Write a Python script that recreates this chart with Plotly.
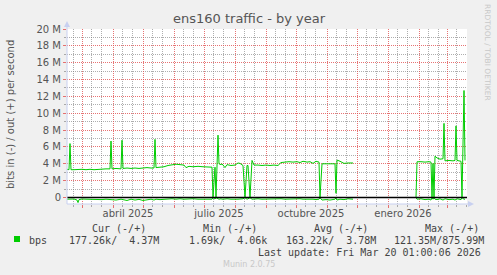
import plotly.graph_objects as go

# ---------------- data (Mbps) ----------------
dates = [
    "2025-02-14", "2025-02-16", "2025-02-17", "2025-02-18", "2025-02-21", "2025-02-24", "2025-02-25", "2025-02-26",
    "2025-03-01", "2025-03-05", "2025-03-09", "2025-03-13", "2025-03-17", "2025-03-21", "2025-03-25", "2025-03-29",
    "2025-03-30", "2025-03-31", "2025-04-04", "2025-04-09", "2025-04-10", "2025-04-11", "2025-04-15", "2025-04-19",
    "2025-04-23", "2025-04-27", "2025-05-01", "2025-05-05", "2025-05-09", "2025-05-12", "2025-05-13", "2025-05-14",
    "2025-05-18", "2025-05-22", "2025-05-26", "2025-05-30", "2025-06-03", "2025-06-07", "2025-06-11", "2025-06-13",
    "2025-06-16", "2025-06-20", "2025-06-25", "2025-06-30", "2025-07-05", "2025-07-09", "2025-07-10", "2025-07-12",
    "2025-07-13", "2025-07-15", "2025-07-16", "2025-07-18", "2025-07-19", "2025-07-22", "2025-07-24", "2025-07-28",
    "2025-08-01", "2025-08-04", "2025-08-06", "2025-08-09", "2025-08-11", "2025-08-13", "2025-08-14", "2025-08-16",
    "2025-08-18", "2025-08-20", "2025-08-24", "2025-08-28", "2025-09-01", "2025-09-05", "2025-09-09", "2025-09-13",
    "2025-09-16", "2025-09-20", "2025-09-24", "2025-09-28", "2025-10-02", "2025-10-05", "2025-10-08", "2025-10-12",
    "2025-10-15", "2025-10-18", "2025-10-21", "2025-10-24", "2025-10-25", "2025-10-27", "2025-10-31", "2025-11-04",
    "2025-11-09", "2025-11-10", "2025-11-11", "2025-11-14", "2025-11-18", "2025-11-22", "2025-11-27",
    "2025-12-20",
    "2026-01-29", "2026-01-30", "2026-02-03", "2026-02-07", "2026-02-11", "2026-02-13", "2026-02-14", "2026-02-15",
    "2026-02-16", "2026-02-17", "2026-02-19", "2026-02-22", "2026-02-25", "2026-02-26", "2026-02-27", "2026-03-03",
    "2026-03-07", "2026-03-09", "2026-03-10", "2026-03-11", "2026-03-15", "2026-03-16", "2026-03-18", "2026-03-19",
]
out_mbps = [
    3.35, 3.3, 6.4, 3.3, 3.3, 3.35, 3.3, 3.3,
    3.35, 3.3, 3.35, 3.3, 3.35, 3.4, 3.4, 3.4,
    6.7, 3.4, 3.45, 3.4, 6.8, 3.45, 3.5, 3.45,
    3.5, 3.45, 3.5, 3.55, 3.5, 3.5, 6.9, 3.55,
    3.6, 3.65, 3.8, 3.9, 3.95, 3.9, 3.85, 3.55,
    3.7, 3.65, 3.7, 3.65, 3.65, 3.6, 0.05, 3.6,
    0.05, 7.4, 4.0, 3.9, 4.0, 3.55, 3.9, 3.8,
    3.85, 4.1, 4.05, 3.8, 0.05, 3.8, 3.8, 0.05,
    4.4, 3.85, 3.85, 3.8, 3.85, 3.8, 3.85, 3.8,
    4.15, 4.2, 4.25, 4.2, 4.25, 4.15, 4.3, 4.2,
    4.25, 4.05, 4.3, 4.2, 0.05, 4.0, 4.0, 4.0,
    4.0, 0.5, 4.45, 4.3, 4.05, 4.1, 4.1,
    None,
    0.0, 4.24, 4.25, 4.2, 4.25, 4.2, 0.05, 4.05,
    0.05, 4.9, 4.7, 4.55, 4.6, 8.8, 4.35, 4.4,
    4.35, 4.4, 8.5, 4.4, 4.3, 0.05, 12.7, 4.4,
]
in_mbps = [
    -0.2, -0.2, -0.2, -0.22, -0.18, -0.3, -0.6, -0.25,
    -0.18, -0.2, -0.22, -0.18, -0.2, -0.25, -0.2, -0.22,
    -0.2, -0.2, -0.3, -0.2, -0.2, -0.25, -0.35, -0.2,
    -0.3, -0.22, -0.35, -0.25, -0.2, -0.3, -0.2, -0.2,
    -0.25, -0.2, -0.22, -0.15, -0.2, -0.15, -0.2, -0.18,
    -0.2, -0.15, -0.2, -0.18, -0.15, -0.2, -0.02, -0.18,
    -0.02, -0.15, -0.2, -0.15, -0.2, -0.18, -0.15, -0.2,
    -0.15, -0.2, -0.18, -0.15, -0.02, -0.2, -0.15, -0.02,
    -0.2, -0.18, -0.15, -0.2, -0.18, -0.15, -0.2, -0.18,
    -0.15, -0.2, -0.18, -0.15, -0.2, -0.15, -0.2, -0.18,
    -0.15, -0.2, -0.25, -0.2, -0.02, -0.3, -0.25, -0.3,
    -0.2, -0.05, -0.3, -0.2, -0.25, -0.15, -0.2,
    None,
    0.0, -0.2, -0.15, -0.25, -0.2, -0.3, -0.02, -0.2,
    -0.02, -0.2, -0.25, -0.15, -0.3, -0.2, -0.15, -0.25,
    -0.2, -0.3, -0.2, -0.15, -0.25, -0.02, -0.2, -0.2,
]

month_grid = ["2025-03-01", "2025-04-01", "2025-05-01", "2025-06-01", "2025-07-01", "2025-08-01",
              "2025-09-01", "2025-10-01", "2025-11-01", "2025-12-01", "2026-01-01", "2026-02-01", "2026-03-01"]
minor_grid = ["2025-02-20", "2025-03-10", "2025-03-20", "2025-04-10", "2025-04-20", "2025-05-10", "2025-05-20",
              "2025-06-10", "2025-06-20", "2025-07-10", "2025-07-20", "2025-08-10", "2025-08-20",
              "2025-09-10", "2025-09-20", "2025-10-10", "2025-10-20", "2025-11-10", "2025-11-20",
              "2025-12-10", "2025-12-20", "2026-01-10", "2026-01-20", "2026-02-10", "2026-02-20",
              "2026-03-10", "2026-03-20"]
label_dates = ["2025-04-16", "2025-07-16", "2025-10-16", "2026-01-16"]
label_text = ["abril 2025", "julio 2025", "octubre 2025", "enero 2026"]
y_ticks = [0, 2, 4, 6, 8, 10, 12, 14, 16, 18, 20]
y_tick_text = ["0", "2 M", "4 M", "6 M", "8 M", "10 M", "12 M", "14 M", "16 M", "18 M", "20 M"]
y_minor = [1, 3, 5, 7, 9, 11, 13, 15, 17, 19]

legend_headers = ["Cur (-/+)", "Min (-/+)", "Avg (-/+)", "Max (-/+)"]
legend_values = ["177.26k/  4.37M", "  1.69k/  4.06k", "163.22k/  3.78M", "121.35M/875.99M"]

# ---------------- layout geometry ----------------
W_FIG, H_FIG = 497, 275
L, R, T, B = 67, 467, 29, 204
PW, PH = R - L, B - T
def px(x):
    return (x - L) / PW
def py(y):
    return (B - y) / PH

GREEN = "#00CC00"
AXIS = "#C8D0F0"
MAJOR = "rgba(225,80,80,0.8)"
MINOR = "rgba(120,120,120,0.6)"
TXT = "#555555"

fig = go.Figure()
fig.add_trace(go.Scatter(x=dates, y=out_mbps, mode="lines", line=dict(color=GREEN, width=1),
                         showlegend=False, hoverinfo="skip"))
fig.add_trace(go.Scatter(x=dates, y=in_mbps, mode="lines", line=dict(color=GREEN, width=1),
                         showlegend=False, hoverinfo="skip"))
# invisible trace for the label axis
fig.add_trace(go.Scatter(x=label_dates, y=[None] * len(label_dates), xaxis="x2", showlegend=False,
                         hoverinfo="skip"))

xr = ["2025-02-14", "2026-03-21"]
fig.update_layout(
    width=W_FIG, height=H_FIG,
    margin=dict(l=L, r=W_FIG - R, t=T, b=H_FIG - B, autoexpand=False),
    paper_bgcolor="#F0F0F0", plot_bgcolor="#FFFFFF",
    font=dict(family="DejaVu Sans", size=10, color=TXT),
    xaxis=dict(
        range=xr, type="date", tickmode="array", tickvals=month_grid, showticklabels=False,
        showgrid=True, gridcolor=MAJOR, griddash="1px,1px", gridwidth=1,
        ticks="outside", ticklen=3, tickcolor=MAJOR, zeroline=False, showline=False,
        minor=dict(tickmode="array", tickvals=minor_grid, showgrid=True, gridcolor=MINOR,
                   griddash="1px,1px", ticks="outside", ticklen=2, tickcolor=MINOR),
        fixedrange=True,
    ),
    xaxis2=dict(
        range=xr, type="date", overlaying="x", anchor="y", side="bottom",
        tickmode="array", tickvals=label_dates, ticktext=label_text,
        showgrid=False, ticks="", zeroline=False, showline=False,
        tickfont=dict(family="DejaVu Sans", size=10, color=TXT), ticklabelstandoff=2,
    ),
    yaxis=dict(
        range=[-0.77, 20], tickmode="array", tickvals=y_ticks, ticktext=y_tick_text,
        showgrid=True, gridcolor=MAJOR, griddash="1px,1px", zeroline=False, showline=False,
        ticks="outside", ticklen=3, tickcolor=MAJOR,
        tickfont=dict(family="DejaVu Sans", size=10, color=TXT),
        minor=dict(tickmode="array", tickvals=y_minor, showgrid=True, gridcolor=MINOR,
                   griddash="1px,1px", ticks="outside", ticklen=2, tickcolor=MINOR),
    ),
)

shapes = []
# zero line
shapes.append(dict(type="line", xref="paper", yref="y", x0=0, x1=1, y0=0, y1=0,
                   line=dict(color="#000000", width=1.5), layer="above"))
# axes with arrows
shapes.append(dict(type="line", xref="paper", yref="paper", x0=px(67), x1=px(67), y0=py(204), y1=py(24),
                   line=dict(color=AXIS, width=1), layer="above"))
shapes.append(dict(type="line", xref="paper", yref="paper", x0=px(67), x1=px(470), y0=py(204), y1=py(204),
                   line=dict(color=AXIS, width=1), layer="above"))
shapes.append(dict(type="path", xref="paper", yref="paper",
                   path=f"M {px(64)} {py(27)} L {px(70)} {py(27)} L {px(67)} {py(21)} Z",
                   fillcolor=AXIS, line=dict(width=0), layer="above"))
shapes.append(dict(type="path", xref="paper", yref="paper",
                   path=f"M {px(468)} {py(201)} L {px(468)} {py(207)} L {px(474)} {py(204)} Z",
                   fillcolor=AXIS, line=dict(width=0), layer="above"))
# legend swatch
shapes.append(dict(type="rect", xref="paper", yref="paper", x0=px(14), x1=px(20), y0=py(242), y1=py(236),
                   fillcolor=GREEN, line=dict(width=0)))
fig.update_layout(shapes=shapes)

MONO = "DejaVu Sans Mono"
ann = []
def add_text(text, x, y, xanchor="left", size=10, color="#444444", family=MONO, angle=0):
    ann.append(dict(text=text.replace(" ", "\u00a0"), x=px(x), y=py(y), xref="paper", yref="paper",
                    xanchor=xanchor, yanchor="middle", showarrow=False, textangle=angle,
                    font=dict(family=family, size=size, color=color)))

add_text("ens160 traffic - by year", 249, 19, xanchor="center", size=13, color="#555555", family="DejaVu Sans")
add_text("bits in (-) / out (+) per second", 10, 115, xanchor="center", size=10, color=TXT,
         family="DejaVu Sans", angle=-90)
add_text("RRDTOOL / TOBI OETIKER", 488, 52, xanchor="center", size=7.5, color="#C8C8C8",
         family="DejaVu Sans", angle=90)
for h, hx in zip(legend_headers, [90, 200.7, 312, 423]):
    add_text(h, hx, 228)
add_text("bps", 27, 240)
for v, vx in zip(legend_values, [67, 175.4, 283.7, 392]):
    add_text(v, vx, 240)
add_text("Last update: Fri Mar 20 01:00:06 2026", 483, 252, xanchor="right")
add_text("Munin 2.0.75", 249, 264, xanchor="center", size=8, color="#C8C8C8", family="DejaVu Sans")
fig.update_layout(annotations=ann)

fig.write_html("out.html")
